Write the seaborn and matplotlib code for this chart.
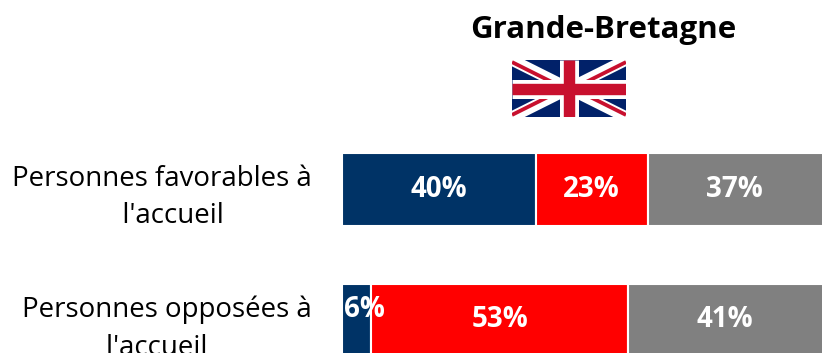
import matplotlib
matplotlib.use("Agg")
import matplotlib.pyplot as plt
import pandas as pd
import seaborn as sns

title = "Grande-Bretagne"
categories = ["Personnes favorables à\n   l'accueil", "Personnes opposées à\nl'accueil   "]
series_a = [40, 6]
series_b = [23, 53]
series_c = [37, 41]
colors = ["#003366", "#FF0000", "#808080"]

W, H = 822, 353
PITCH = 131.7
sns.set_theme(style="white")
plt.rcParams["font.family"] = ["Open Sans", "DejaVu Sans"]

fig = plt.figure(figsize=(W / 100, H / 100), dpi=100)
ax = fig.add_axes([342 / W, 0, (W - 342) / W, 1])

df = pd.DataFrame({"cat": categories, "a": series_a, "b": series_b, "c": series_c})
left = pd.Series([0, 0])
for col, color in zip(["a", "b", "c"], colors):
    sns.barplot(data=df, y="cat", x=col, left=left, color=color, orient="y", width=73 / PITCH,
                edgecolor="white", linewidth=1.5, saturation=1, ax=ax)
    left = left + df[col]

ax.set_xlim(0, (W - 342) / 4.85)
ax.set_ylim((353 - 189) / PITCH, -189 / PITCH)
ax.set_xlabel("")
ax.set_ylabel("")
ax.set_xticks([])
sns.despine(ax=ax, left=True, bottom=True)
ax.tick_params(axis="y", length=0, pad=21.5)
for t in ax.get_yticklabels():
    t.set_fontsize(19.9)
    t.set_color("black")
    t.set_multialignment("center")
    t.set_linespacing(1.45)

for container, values in zip(ax.containers, [series_a, series_b, series_c]):
    labels = ax.bar_label(container, labels=[f"{v}%" for v in values], label_type="center",
                          color="white", fontsize=20, fontweight="bold")
    for lab, v in zip(labels, values):
        if v == 6:
            lab.set_position((8 / 1.389, 9 / 1.389))
        else:
            lab.set_position((0, -1 / 1.389))

fig.text(603 / W, 1 - 30 / H, title, ha="center", va="center", fontsize=22.5, fontweight="bold", color="black")

# Union Jack
fx = fig.add_axes([512 / W, 1 - 117 / H, 114 / W, 57 / H])
fx.set_xlim(0, 60)
fx.set_ylim(0, 30)
fx.axis("off")
fx.fill_between([0, 60], 0, 30, color="#012169", lw=0)
u = 57 / 30 * 0.72
for xs, ys in [((-20, 80), (-10, 40)), ((-20, 80), (40, -10))]:
    fx.plot(xs, ys, color="white", lw=6 * u, solid_capstyle="butt")
for xs, ys in [((0, 30), (28.9, 13.9)), ((30, 60), (13.9, 28.9)), ((0, 30), (1.1, 16.1)), ((30, 60), (16.1, 1.1))]:
    fx.plot(xs, ys, color="#C8102E", lw=2 * u, solid_capstyle="butt")
fx.plot([30, 30], [0, 30], color="white", lw=10 * u, solid_capstyle="butt")
fx.plot([0, 60], [15, 15], color="white", lw=10 * u, solid_capstyle="butt")
fx.plot([30, 30], [0, 30], color="#C8102E", lw=6 * u, solid_capstyle="butt")
fx.plot([0, 60], [15, 15], color="#C8102E", lw=6 * u, solid_capstyle="butt")

fig.savefig("out.png", dpi=100)
